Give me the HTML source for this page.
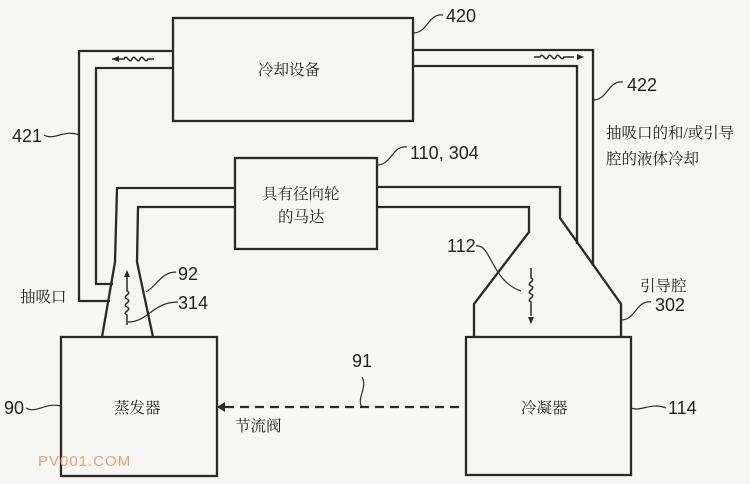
<!DOCTYPE html>
<html><head><meta charset="utf-8"><style>
html,body{margin:0;padding:0;background:#f6f6f4;}
svg{display:block}
text{font-family:"Liberation Sans","Noto Sans CJK SC",sans-serif;fill:#222}
.cn{font-family:"Liberation Serif","Noto Serif CJK SC",serif;font-size:15.5px}
.n{font-size:18px}
</style></head><body>
<svg width="750" height="484" viewBox="0 0 750 484" xmlns="http://www.w3.org/2000/svg">
<rect width="750" height="484" fill="#f6f6f4"/>
<g fill="none" stroke="#2a2a2a" stroke-width="2.3">
<rect x="173" y="18" width="240" height="103"/>
<polyline points="173,51 79,51 79,301 110,301"/>
<polyline points="173,68 96,68 96,284 113,284"/>
<polyline points="413,50 593,50 593,266"/>
<polyline points="413,66 577,66 577,244"/>
<rect x="235" y="158" width="142" height="91"/>
<polyline points="235,188 117,188 115,262 102,337"/>
<polyline points="235,207 138,207 137,262 153,337"/>
<polyline points="377,187 560,187 560,218 621,304 621,337"/>
<polyline points="377,207 529,207 529,232 474,304 474,337"/>
<rect x="61" y="337" width="156" height="139"/>
<rect x="466" y="337" width="165" height="138"/>
<line x1="225" y1="407" x2="466" y2="407" stroke-dasharray="9,6"/>
<path d="M112,59 h12 c3,-6 5,6 8,0 c3,-6 5,6 8,0 c3,-6 5,6 8,0 h6" stroke-width="1.5"/>
<path d="M534,57 h6 c3,-6 5,6 8,0 c3,-6 5,6 8,0 c3,-6 5,6 8,0 h10" stroke-width="1.5"/>
<path d="M127,325 v-10 c-6,-3 6,-5 0,-8 c-6,-3 6,-5 0,-8 c-6,-3 6,-5 0,-8 v-14" stroke-width="1.5"/>
<path d="M531,268 v10 c6,3 -6,5 0,8 c6,3 -6,5 0,8 c6,3 -6,5 0,8 v14" stroke-width="1.5"/>
<path d="M413,33 c15,0 15,-20 30,-18" stroke-width="1.2"/>
<path d="M593,100 c15,0 15,-20 30,-18" stroke-width="1.2"/>
<path d="M44,135 c10,6 20,-6 35,0" stroke-width="1.2"/>
<path d="M377,165 c15,0 15,-20 30,-18" stroke-width="1.2"/>
<path d="M146,292 c10,-5 15,-20 30,-20" stroke-width="1.2"/>
<path d="M128,322 c20,0 25,-20 50,-20" stroke-width="1.2"/>
<path d="M476,246 c15,-3 15,35 45,45" stroke-width="1.2"/>
<path d="M621,320 c15,0 15,-20 30,-18" stroke-width="1.2"/>
<path d="M26,408 c10,6 20,-6 35,-2" stroke-width="1.2"/>
<path d="M631,408 c10,4 20,-6 35,0" stroke-width="1.2"/>
<path d="M362,407 c-6,-8 6,-20 0,-30" stroke-width="1.2"/>
</g>
<g fill="#2a2a2a">
<path d="M112,59 l7,-3 v6z"/>
<path d="M584,57 l-7,-3 v6z"/>
<path d="M127,270 l-3,7 h6z"/>
<path d="M531,324 l-3,-7 h6z"/>
<path d="M217,407 l8,-5 v10z"/>
</g>
<text class="cn" x="258" y="75">冷却设备</text>
<text class="cn" x="262" y="199">具有径向轮</text>
<text class="cn" x="278" y="222">的马达</text>
<text class="cn" x="606" y="138">抽吸口的和/或引导</text>
<text class="cn" x="606" y="164">腔的液体冷却</text>
<text class="cn" x="20" y="302">抽吸口</text>
<text class="cn" x="114" y="413">蒸发器</text>
<text class="cn" x="235" y="431">节流阀</text>
<text class="cn" x="521" y="413">冷凝器</text>
<text class="cn" x="640" y="291">引导腔</text>
<text class="n" x="446" y="22">420</text>
<text class="n" x="627" y="91">422</text>
<text class="n" x="12" y="142">421</text>
<text class="n" x="410" y="159">110, 304</text>
<text class="n" x="178" y="280">92</text>
<text class="n" x="178" y="309">314</text>
<text class="n" x="447" y="252">112</text>
<text class="n" x="655" y="311">302</text>
<text class="n" x="4" y="414">90</text>
<text class="n" x="668" y="414">114</text>
<text class="n" x="352" y="367">91</text>
<text x="38" y="466" style="font-size:15px;fill:#f0a070;letter-spacing:1px">PV001.COM</text>
</svg>
</body></html>
